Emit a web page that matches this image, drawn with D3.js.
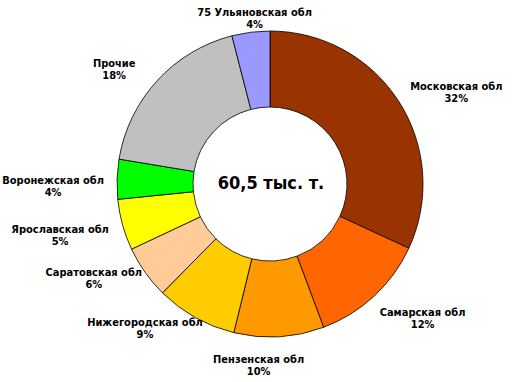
<!DOCTYPE html>
<html>
<head>
<meta charset="utf-8">
<script src="https://cdn.jsdelivr.net/npm/d3@7"></script>
<style>
  body { margin: 0; background: #fff; }
  svg text { font-family: "DejaVu Sans Condensed", "DejaVu Sans", sans-serif; font-weight: bold; }
</style>
</head>
<body>
<div id="chart"></div>
<script>
// shares, %
const regions = ["Московская обл", "Самарская обл", "Пензенская обл", "Нижегородская обл",
  "Саратовская обл", "Ярославская обл", "Воронежская обл", "Прочие", "75 Ульяновская обл"];
const shares = [31.9, 12.4, 9.5, 8.6, 5.6, 5.4, 4.2, 18.4, 4.0];
const colors = ["#993300", "#FF6600", "#FF9900", "#FFCC00", "#FFCC99", "#FFFF00", "#00FF00", "#C0C0C0", "#9999FF"];
const totalLabel = "60,5 тыс. т.";

// label nudges from the automatic polar position
const nudges = [[22, 13], [20, -9], [-23, -14], [-30, -27], [-17, -19], [-22, -2], [-22, 8], [-12, 16], [9, 27]];

const width = 517, height = 382;
const cx = 270, cy = 184;
const outerR = 153, innerR = 77, labelR = 195;

const svg = d3.select("#chart")
  .append("svg")
  .attr("width", width)
  .attr("height", height);

const g = svg.append("g").attr("transform", "translate(" + cx + "," + cy + ")");

const data = regions.map((name, i) => ({ name: name, value: shares[i], color: colors[i], nudge: nudges[i] }));

const pie = d3.pie().sort(null).value(d => d.value);
const arc = d3.arc().innerRadius(innerR).outerRadius(outerR);

const arcs = pie(data);

g.selectAll("path")
  .data(arcs)
  .join("path")
  .attr("d", arc)
  .attr("fill", d => d.data.color)
  .attr("stroke", "#000")
  .attr("stroke-width", 0.8);

const labels = g.selectAll("g.lbl")
  .data(arcs)
  .join("g")
  .attr("class", "lbl")
  .attr("transform", d => {
    const a = (d.startAngle + d.endAngle) / 2;
    const x = labelR * Math.sin(a) + d.data.nudge[0];
    const y = -labelR * Math.cos(a) + d.data.nudge[1];
    return "translate(" + x + "," + y + ")";
  });

labels.append("text")
  .attr("text-anchor", "middle")
  .attr("y", -1.5)
  .attr("font-size", 11)
  .text(d => d.data.name);

labels.append("text")
  .attr("text-anchor", "middle")
  .attr("y", 10.5)
  .attr("font-size", 11)
  .text(d => Math.round(d.data.value) + "%");

g.append("text")
  .attr("text-anchor", "middle")
  .attr("x", 1)
  .attr("y", 4.5)
  .attr("font-size", 18)
  .text(totalLabel);
</script>
</body>
</html>
